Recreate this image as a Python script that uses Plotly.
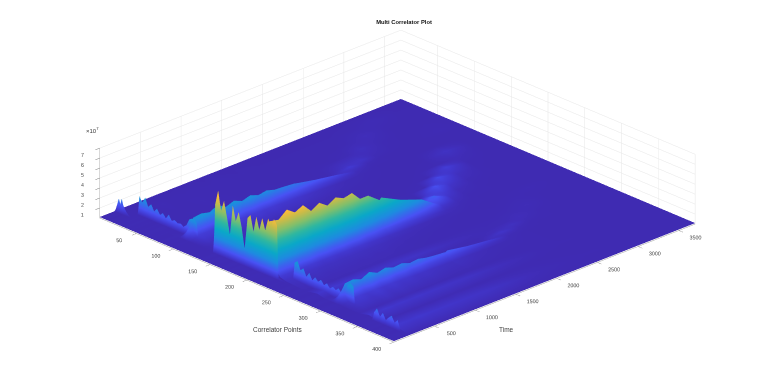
import plotly.graph_objects as go

title = "Multi Correlator Plot"
x_label = "Correlator Points"
t_label = "Time"
x_ticks = [50, 100, 150, 200, 250, 300, 350, 400]
t_ticks = [500, 1000, 1500, 2000, 2500, 3000, 3500]
z_ticks = [1, 2, 3, 4, 5, 6, 7]

# Front strip: dense correlator points, values in units of 1e7
x_front = [0,3,5,7,9,11,13,16,19,21,
           23,27,31,35,39,43,47,51,55,59,63,67,71,75,79,83,87,91,95,99,101,103,125,134,
           136,140,144,148,152,156,160,164,168,172,176,180,184,188,192,196,200,204,208,212,216,220,222,228,232,
           234,238,242,246,250,254,258,262,266,270,274,278,282,286,290,294,298,302,306,310,314,316,330,350,
           352,356,360,364,368,372,376,380,384,388,392,396,400]
t_front = [0, 175, 190, 198, 270, 280, 290]
z_front_low = [.10,.11,.12,.11,.12,.10,.12,.11,.12,.13,
               .13,.14,.13,.15,.13,.14,.12,.14,.13,.15,.14,.13,.14,.12,.13,.15,.13,.14,.12,.14,.13,.12,.13,.12,
               .14,.15,.13,.16,.14,.15,.13,.14,.15,.13,.16,.14,.15,.13,.15,.14,.16,.15,.14,.16,.15,.14,.13,.14,.13,
               .14,.13,.15,.14,.13,.16,.14,.15,.13,.14,.16,.15,.13,.14,.15,.13,.14,.16,.15,.14,.13,.12,.13,.14,
               .14,.15,.14,.16,.13,.15,.14,.16,.13,.14,.15,.14,.13]
# wall of the main ridge and the outer spikes
z_front_main = [.10,.9,1.5,1.0,1.6,1.0,.7,.4,.2,.15,
               .13,.14,.13,.15,.13,.14,.12,.14,.13,.15,.14,.13,.14,.12,.13,.15,.13,.14,.12,.14,.13,.12,.13,.14,
               5.0,6.5,4.6,5.7,4.2,2.6,5.6,4.2,5.2,3.8,1.8,5.0,5.4,3.9,5.5,4.3,5.6,4.5,5.8,5.2,6.0,5.5,.3,.2,.16,
               .14,.13,.15,.14,.13,.16,.14,.15,.13,.14,.16,.15,.13,.14,.15,.13,.14,.16,.15,.14,.13,.12,.13,.14,
               .9,1.4,.7,1.2,.6,1.0,1.3,.7,1.1,.2,.15,.14,.13]
# walls of the two side ridges
z_front_side = [.10,.11,.12,.11,.12,.10,.12,.11,.12,.13,
               2.0,1.5,2.1,1.3,1.7,1.1,1.5,1.0,1.3,.9,1.4,.9,1.1,.9,1.0,.8,1.1,1.8,2.0,1.9,1.7,.3,.15,.14,
               .14,.15,.13,.16,.14,.15,.13,.14,.15,.13,.16,.14,.15,.13,.15,.14,.16,.15,.14,.16,.15,.14,.13,.14,.13,
               1.9,2.2,1.4,1.7,1.0,1.5,.9,1.3,1.0,1.3,.9,1.2,.8,1.1,.9,1.2,.8,1.0,1.9,2.2,2.0,.3,.2,.15,
               .14,.15,.14,.16,.13,.15,.14,.16,.13,.14,.15,.14,.13]

# Rear body: values in units of 1e7
x_rear = [0,20,40,60,80,86,90,94,97,102,120,135,150,165,180,190,200,206,210,213,218,224,232,245,260,275,285,292,296,300,303,308,332,345,360,380,400]
t_rear = [190,300,400,500,600,700,800,900,1000,1100,1200,1300,1400,1540,1560,1800,2060,2300,2500,2670,2900,3165,3475,3700]
z_rear = [
 [.10,.12,.13,.12,.14,.15,.15,.16,.15,.14,.13,.13,.12,.13,.12,.15,.9,2.8,5.6,3.1,1.2,.45,.28,.2,.15,.36,.18,.2,.16,.18,.15,.16,.16,.4,.14,.42,.12],
 [.11,.13,.12,.14,.13,.16,1.0,2.0,1.1,.5,.22,.14,.12,.12,.14,.16,1.0,2.7,5.4,3.0,1.2,.46,.3,.22,.16,.4,.17,.22,.9,1.8,1.0,.45,.18,.38,.15,.4,.13],
 [.10,.12,.14,.13,.12,.15,1.1,2.1,1.15,.5,.2,.13,.13,.14,.12,.17,1.2,3.05,6.1,3.35,1.35,.5,.28,.2,.17,.42,.18,.2,.95,1.9,1.05,.48,.16,.4,.16,.38,.12],
 [.11,.13,.12,.12,.14,.16,1.0,1.9,1.05,.48,.21,.12,.14,.12,.13,.15,1.1,2.75,5.5,3.0,1.2,.44,.3,.22,.15,.38,.2,.21,.8,1.6,.88,.4,.17,.37,.15,.4,.13],
 [.10,.14,.13,.13,.12,.15,1.15,2.3,1.25,.56,.22,.14,.12,.13,.12,.16,1.2,2.95,5.9,3.25,1.3,.47,.28,.2,.16,.4,.17,.2,1.0,2.0,1.1,.5,.18,.38,.14,.38,.12],
 [.11,.12,.12,.14,.13,.14,.9,1.8,1.0,.45,.2,.13,.13,.12,.14,.15,1.0,2.5,5.0,2.75,1.1,.4,.27,.21,.15,.38,.18,.19,.8,1.6,.88,.4,.16,.36,.15,.37,.13],
 [.10,.13,.13,.12,.14,.15,1.05,2.1,1.15,.52,.2,.12,.14,.13,.12,.16,1.1,2.75,5.5,3.0,1.2,.44,.28,.2,.16,.37,.17,.2,.9,1.8,1.0,.45,.17,.37,.14,.36,.12],
 [.11,.12,.14,.13,.12,.14,.9,1.75,.96,.44,.2,.13,.12,.14,.13,.15,.98,2.45,4.9,2.7,1.08,.4,.26,.2,.15,.36,.18,.19,.75,1.5,.82,.38,.16,.35,.15,.36,.13],
 [.10,.13,.12,.12,.13,.15,1.0,2.0,1.1,.5,.2,.14,.13,.12,.12,.16,1.08,2.7,5.4,3.0,1.2,.43,.27,.19,.16,.35,.16,.2,.8,1.6,.88,.4,.15,.35,.14,.35,.12],
 [.11,.12,.13,.14,.12,.14,.85,1.7,.94,.43,.19,.12,.12,.13,.14,.15,1.0,2.5,5.0,2.75,1.1,.4,.26,.2,.15,.34,.17,.19,.65,1.3,.72,.33,.16,.34,.15,.34,.13],
 [.10,.12,.12,.13,.13,.15,.95,1.85,1.0,.46,.18,.13,.14,.12,.13,.15,1.04,2.6,5.2,2.85,1.15,.42,.25,.18,.16,.34,.16,.18,.7,1.4,.77,.35,.15,.33,.14,.33,.12],
 [.11,.13,.13,.12,.12,.14,.8,1.6,.88,.4,.18,.12,.12,.13,.12,.14,.86,2.15,4.3,2.35,.95,.36,.24,.19,.15,.33,.16,.17,.6,1.2,.66,.3,.15,.32,.14,.32,.13],
 [.10,.12,.12,.12,.13,.14,.8,1.55,.85,.4,.17,.13,.13,.12,.13,.14,.86,2.15,4.3,2.35,.95,.35,.22,.17,.14,.32,.15,.17,.55,1.1,.6,.28,.14,.31,.13,.3,.12],
 [.10,.11,.12,.13,.12,.14,.7,1.45,.8,.37,.16,.12,.12,.13,.12,.14,.7,1.7,3.4,1.9,.75,.28,.2,.16,.14,.28,.15,.16,.5,1.0,.55,.25,.14,.28,.13,.27,.11],
 [.10,.12,.11,.12,.13,.13,.7,1.4,.77,.35,.16,.12,.13,.12,.12,.14,.72,1.8,3.6,2.0,.8,.3,.2,.15,.14,.28,.14,.16,.55,1.1,.6,.28,.14,.27,.13,.27,.11],
 [.10,.11,.12,.11,.12,.13,.5,1.0,.55,.25,.14,.12,.12,.12,.12,.13,.52,1.3,2.6,1.43,.57,.22,.17,.14,.13,.22,.14,.15,.38,.75,.41,.2,.13,.22,.12,.2,.11],
 [.10,.11,.11,.12,.12,.13,.33,.65,.36,.17,.13,.12,.11,.12,.12,.13,.4,.95,1.8,1.0,.4,.17,.15,.13,.13,.17,.13,.14,.25,.5,.28,.15,.12,.17,.12,.15,.11],
 [.10,.11,.11,.12,.3,.45,.28,.2,.17,.14,.12,.11,.11,.12,.13,.6,1.1,.7,.4,.3,.2,.16,.13,.12,.13,.14,.2,.35,.22,.16,.15,.14,.12,.13,.11,.13,.11],
 [.10,.11,.11,.15,.32,.18,.14,.13,.12,.12,.11,.11,.12,.15,.85,.5,.3,.22,.18,.16,.14,.13,.12,.12,.13,.15,.26,.17,.14,.13,.12,.12,.12,.12,.11,.12,.11],
 [.10,.11,.13,.24,.15,.12,.12,.12,.11,.11,.11,.12,.13,.7,.35,.2,.15,.13,.13,.12,.12,.12,.11,.12,.14,.2,.15,.12,.12,.12,.11,.11,.11,.12,.11,.12,.11],
 [.10,.12,.2,.14,.12,.11,.11,.11,.11,.11,.12,.14,.5,.25,.15,.13,.12,.12,.12,.11,.11,.11,.12,.14,.17,.13,.12,.12,.11,.11,.11,.11,.11,.11,.11,.11,.11],
 [.10,.16,.12,.11,.11,.11,.11,.11,.11,.12,.3,.18,.13,.12,.12,.11,.11,.11,.11,.11,.11,.12,.14,.12,.11,.11,.11,.11,.11,.11,.11,.11,.11,.11,.11,.11,.11],
 [.10,.11,.11,.12,.14,.12,.11,.11,.11,.11,.11,.11,.11,.11,.11,.11,.11,.11,.11,.11,.11,.11,.11,.11,.11,.11,.11,.11,.11,.11,.11,.11,.11,.11,.11,.11,.11],
 [.10,.11,.11,.11,.11,.11,.11,.11,.11,.11,.11,.11,.11,.11,.11,.11,.11,.11,.11,.11,.11,.11,.11,.11,.11,.11,.11,.11,.11,.11,.11,.11,.11,.11,.11,.11,.11],
]
x_floor = [0, 400]
t_floor = [0, 3700]
z_floor = [[.09, .09], [.09, .09]]

parula = [[0, "#3E26A8"], [.06, "#4238D0"], [.125, "#4852F4"], [.25, "#1E8BE0"], [.375, "#0AA8C8"],
          [.5, "#2FB7A0"], [.625, "#80BF6C"], [.75, "#CBBB48"], [.85, "#FDBB3A"], [.95, "#F6E620"], [1, "#F9FB15"]]
flat = dict(ambient=1, diffuse=0, specular=0, roughness=1, fresnel=0)

common = dict(colorscale=parula, cmin=0, cmax=7, showscale=False, lighting=flat, hoverinfo="skip")
fig = go.Figure()
fig.add_trace(go.Surface(x=x_floor, y=t_floor, z=z_floor, **common))
fig.add_trace(go.Surface(x=x_rear, y=t_rear, z=z_rear, **common))
fig.add_trace(go.Surface(x=x_front, y=t_front,
                         z=[z_front_low, z_front_low, z_front_main, z_front_low, z_front_low, z_front_side, z_front_low],
                         **common))

axis = dict(showbackground=False, gridcolor="#e6e6e6", gridwidth=1, showline=True, linecolor="#9a9a9a",
            zeroline=False, ticks="outside", ticklen=6, tickcolor="#777777", title=dict(text=""), tickangle=0,
            tickfont=dict(family="Liberation Sans", size=8, color="#404040"), showspikes=False)
fig.update_layout(
    width=768, height=382, margin=dict(l=0, r=0, t=0, b=0), paper_bgcolor="white",
    title=dict(text="<b>" + title + "</b>", x=396 / 768, xanchor="center", y=0.963, yanchor="middle",
               font=dict(family="Liberation Sans", size=5.8, color="#111111")),
    scene=dict(
        domain=dict(x=[0, 1], y=[0, 1]),
        xaxis=dict(axis, range=[0, 400], tickvals=x_ticks),
        yaxis=dict(axis, range=[0, 3700], tickvals=t_ticks),
        zaxis=dict(axis, range=[0, 7], tickvals=z_ticks),
        aspectmode="manual", aspectratio=dict(x=2.22, y=2.19, z=0.40),
        camera=dict(projection=dict(type="orthographic"), eye=dict(x=3.28, y=-3.2, z=1.966),
                    center=dict(x=-0.02, y=-0.02, z=-0.074), up=dict(x=0, y=0, z=1)),
    ),
    annotations=[
        dict(text=x_label, x=270 / 768, y=1 - 321 / 382, xref="paper", yref="paper", showarrow=False,
             xanchor="center", yanchor="middle", font=dict(family="Liberation Sans", size=6.5, color="#404040")),
        dict(text=t_label, x=498 / 768, y=1 - 321 / 382, xref="paper", yref="paper", showarrow=False,
             xanchor="center", yanchor="middle", font=dict(family="Liberation Sans", size=6.5, color="#404040")),
        dict(text="×10<sup>7</sup>", x=84 / 768, y=1 - 122 / 382, xref="paper", yref="paper", showarrow=False,
             xanchor="center", yanchor="middle", font=dict(family="Liberation Sans", size=6, color="#404040")),
    ],
)
fig.write_html("out.html")
